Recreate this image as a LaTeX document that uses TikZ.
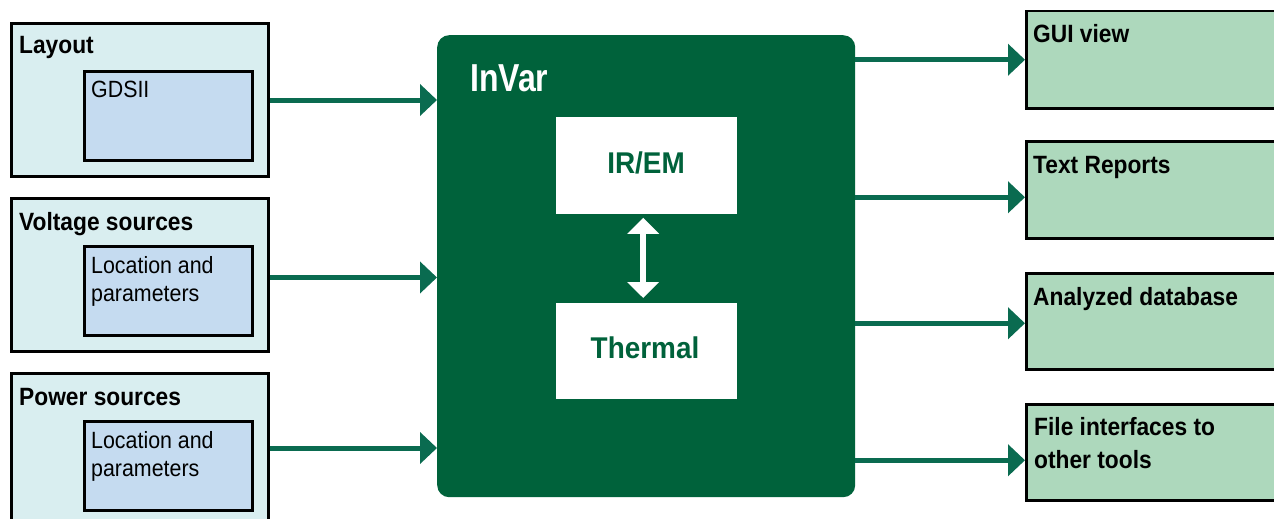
\documentclass[tikz,border=0pt]{standalone}
\usepackage{fontspec}
\setmainfont{Liberation Sans}[FakeStretch=0.91]
\newfontfamily\narrowfont{Liberation Sans}[FakeStretch=0.82]
\newfontfamily\widefont{Liberation Sans}[FakeStretch=0.93]
\usetikzlibrary{arrows.meta,calc}
\definecolor{boxcyan}{HTML}{D9EEF0}
\definecolor{boxblue}{HTML}{C5DBF0}
\definecolor{boxgreen}{HTML}{ADD8BC}
\definecolor{darkgreen}{HTML}{00623B}
\definecolor{arrowgreen}{HTML}{0A6B50}
\begin{document}
\begin{tikzpicture}[x=1pt,y=-1pt,
  outerbox/.style={draw=black,line width=3pt,fill=boxcyan,rectangle,inner sep=0,anchor=north west},
  innerbox/.style={draw=black,line width=3pt,fill=boxblue,rectangle,inner sep=0,anchor=north west},
  outbox/.style={draw=black,line width=2.5pt,fill=boxgreen,rectangle,inner sep=0,anchor=north west},
  whitebox/.style={fill=white,rectangle,inner sep=0,anchor=north west},
  head/.style={inner sep=0,anchor=base west,font=\bfseries\fontsize{25}{33}\selectfont},
  sub/.style={inner sep=0,anchor=base west,font=\fontsize{23.5}{28}\selectfont,align=left},
  arr/.style={draw=arrowgreen,line width=5pt,-{Triangle[length=17pt,width=31pt]}},
  dbl/.style={draw=white,line width=6pt,{Triangle[length=16pt,width=31pt]}-{Triangle[length=16pt,width=31pt]}}
]
\useasboundingbox (0,0) rectangle (1274,519);
% left input boxes
\node[outerbox,minimum width=257pt,minimum height=153pt] (layout) at (10,22) {};
\node[innerbox,minimum width=168pt,minimum height=89pt] (gds) at (83,70) {};
\node[head] (layoutt) at (19,53) {Layout};
\node[sub] (gdst) at (91,97) {GDSII};

\node[outerbox,minimum width=257pt,minimum height=153pt] (volt) at (10,197) {};
\node[innerbox,minimum width=168pt,minimum height=89pt] (voltin) at (83,245) {};
\node[head] (voltt) at (19,230) {Voltage sources};
\node[sub,anchor=north west] (voltint) at (91,253.4) {\strut Location and\\parameters};

\node[outerbox,minimum width=257pt,minimum height=153pt] (pow) at (10,372) {};
\node[innerbox,minimum width=168pt,minimum height=89pt] (powin) at (83,420) {};
\node[head] (powt) at (19,405) {Power sources};
\node[sub,anchor=north west] (powint) at (91,428.4) {\strut Location and\\parameters};

% main block
\node[fill=darkgreen,rounded corners=12pt,rectangle,inner sep=0,anchor=north west,minimum width=418pt,minimum height=462pt] (invar) at (437,35) {};
\node[inner sep=0,anchor=base west,text=white,font=\narrowfont\bfseries\fontsize{39}{39}\selectfont] (invart) at (470,92) {InVar};
\node[whitebox,minimum width=181pt,minimum height=97pt] (irem) at (556,117) {};
\node[whitebox,minimum width=181pt,minimum height=96pt] (therm) at (556,303) {};
\node[inner sep=0,anchor=base,text=darkgreen,font=\widefont\bfseries\fontsize{30}{30}\selectfont] (iremt) at (646,173) {IR/EM};
\node[inner sep=0,anchor=base,text=darkgreen,font=\widefont\bfseries\fontsize{30}{30}\selectfont] (thermt) at (645,358) {Thermal};
\coordinate (dtop) at ($(irem.south)+(-3.5,3.5)$);
\coordinate (dbot) at ($(therm.north)+(-3.5,-5)$);
\draw[dbl] (dtop) -- (dbot);

% output boxes
\node[outbox,minimum width=265pt,minimum height=97pt] (gui) at (1025,10) {};
\node[outbox,minimum width=265pt,minimum height=97pt] (txt) at (1025,140) {};
\node[outbox,minimum width=265pt,minimum height=96pt] (adb) at (1025,272) {};
\node[outbox,minimum width=265pt,minimum height=96pt] (fif) at (1025,403) {};
\node[head] (guit) at (1033,43) {GUI view};
\node[head] (txtt) at (1033,173) {Text Reports};
\node[head] (adbt) at (1033,305) {Analyzed database};
\node[head,anchor=north west,align=left] (fift) at (1034,412) {\strut File interfaces to\\other tools};

% input arrows
\draw[arr] (layout.east) -- (layout.east -| invar.west);
\draw[arr] ([yshift=-2.5pt]volt.east) -- ([yshift=-2.5pt]volt.east -| invar.west);
\draw[arr] (pow.east |- 0,448) coordinate (pa) -- (pa -| invar.west);
% output arrows
\draw[arr] (gui.west -| invar.east) -- (gui.west);
\draw[arr] ([yshift=-7.5pt]txt.west -| invar.east) -- ([yshift=-7.5pt]txt.west);
\draw[arr] ([yshift=-2pt]adb.west -| invar.east) -- ([yshift=-2pt]adb.west);
\draw[arr] ([yshift=-8pt]fif.west -| invar.east) -- ([yshift=-8pt]fif.west);
\end{tikzpicture}
\end{document}
